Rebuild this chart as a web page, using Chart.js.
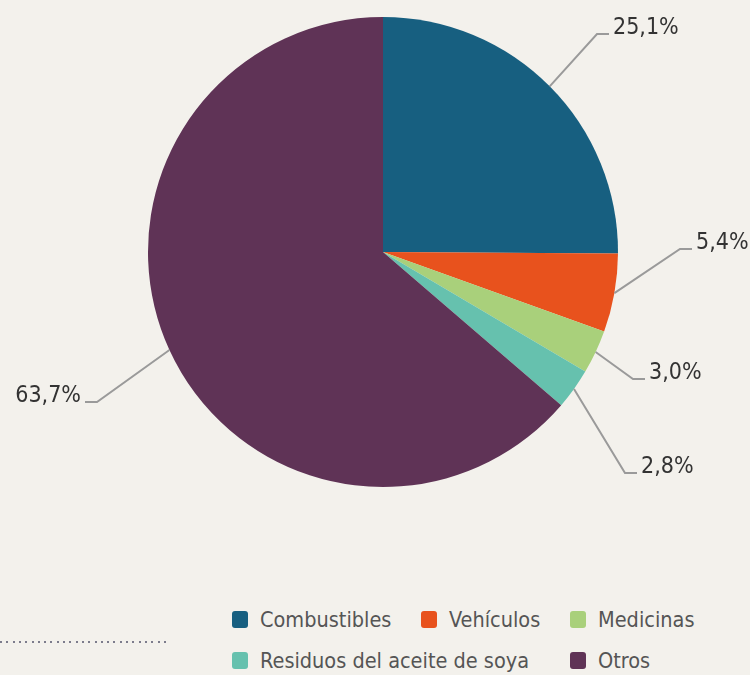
<!DOCTYPE html>
<html>
<head>
<meta charset="utf-8">
<script src="https://cdn.jsdelivr.net/npm/chart.js@4.4.0/dist/chart.umd.min.js"></script>
<style>
  html, body { margin: 0; padding: 0; }
  body { width: 750px; height: 675px; background: #f3f1ec; position: relative; overflow: hidden;
         font-family: "Liberation Sans Narrow", "DejaVu Sans Condensed", sans-serif; }
  #wrap { position: absolute; left: 0; top: 0; width: 750px; height: 500px; }
  #legend { position: absolute; left: 232px; top: 605px; display: grid;
            grid-template-columns: 189px 149px auto; row-gap: 13px; }
  #legend .item { display: flex; align-items: center; height: 28px; font-size: 21.5px; color: #555; white-space: nowrap; }
  #legend .box { width: 16px; height: 17px; border-radius: 3px; margin-right: 12px; flex: none; }
  #legend .wide { grid-column: span 2; }
  #dots { position: absolute; left: 0; top: 641px; width: 168px; height: 2px;
          background: repeating-linear-gradient(90deg, #7c7c8c 0 2px, transparent 2px 6.3px); }
</style>
</head>
<body>
<div id="wrap"><canvas id="pieChart"></canvas></div>
<div id="legend"></div>
<div id="dots"></div>
<script>
var categories = ['Combustibles', 'Vehículos', 'Medicinas', 'Residuos del aceite de soya', 'Otros'];
var shares = [25.1, 5.4, 3.0, 2.8, 63.7];
var colors = ['#175f80', '#e8521d', '#a9d07b', '#66c1ae', '#5f3356'];

// elbow of each leader line, relative to pie centre
var elbows = [[214, -218], [297, -3], [250, 127], [242, 221], [-286, 150]];

var leaderLabels = {
    id: 'leaderLabels',
    afterDatasetsDraw: function (chart) {
        var ctx = chart.ctx;
        var arcs = chart.getDatasetMeta(0).data;
        ctx.save();
        ctx.font = '23px "Liberation Sans Narrow", "DejaVu Sans Condensed", sans-serif';
        ctx.textBaseline = 'alphabetic';
        arcs.forEach(function (arc, i) {
            var p = arc.getProps(['x', 'y', 'startAngle', 'endAngle', 'outerRadius'], true);
            var mid = (p.startAngle + p.endAngle) / 2;
            var ex = p.x + Math.cos(mid) * p.outerRadius;
            var ey = p.y + Math.sin(mid) * p.outerRadius;
            var bx = p.x + elbows[i][0];
            var by = p.y + elbows[i][1];
            var dir = elbows[i][0] >= 0 ? 1 : -1;
            var hx = bx + dir * 12;
            ctx.strokeStyle = '#9a9a9a';
            ctx.lineWidth = 2;
            ctx.beginPath();
            ctx.moveTo(ex, ey);
            ctx.lineTo(bx, by);
            ctx.lineTo(hx, by);
            ctx.stroke();
            ctx.fillStyle = '#333';
            ctx.textAlign = dir > 0 ? 'left' : 'right';
            var txt = shares[i].toFixed(1).replace('.', ',') + '%';
            ctx.fillText(txt, hx + dir * 4, by);
        });
        ctx.restore();
    }
};

var ctx1 = document.getElementById('pieChart').getContext('2d');
var pieChart = new Chart(ctx1, {
    type: 'pie',
    data: {
        labels: categories,
        datasets: [{
            data: shares,
            backgroundColor: colors,
            borderWidth: 0,
            hoverOffset: 0
        }]
    },
    options: {
        responsive: true,
        maintainAspectRatio: false,
        animation: false,
        events: [],
        layout: {
            padding: { left: 148, right: 132, top: 17, bottom: 13 }
        },
        plugins: {
            legend: { display: false },
            tooltip: { enabled: false }
        }
    },
    plugins: [leaderLabels]
});

// html legend from the chart's own data
var legendEl = document.getElementById('legend');
pieChart.data.labels.forEach(function (name, i) {
    var item = document.createElement('div');
    item.className = 'item' + (i === 3 ? ' wide' : '');
    var box = document.createElement('span');
    box.className = 'box';
    box.style.background = pieChart.data.datasets[0].backgroundColor[i];
    item.appendChild(box);
    item.appendChild(document.createTextNode(name));
    legendEl.appendChild(item);
});
</script>
</body>
</html>
